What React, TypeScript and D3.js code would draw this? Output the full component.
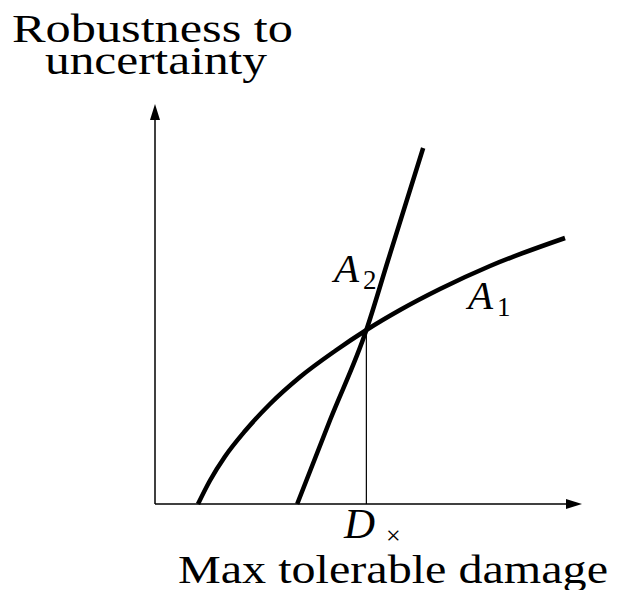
import React from "react";
import * as d3 from "d3";

// Info-gap robustness curves for two actions, A1 and A2
const damageA1: number[] = [10.07, 12.88, 16.39, 21.08, 26.93, 33.96, 42.15, 49.5, 57.38, 66.74, 78.45, 96.02];
const robustA1: number[] = [0, 5.88, 11.88, 18.25, 25, 31.75, 38.25, 43.5, 48.5, 53.75, 59.5, 66.5];

const damageA2: number[] = [33.3, 41.0, 49.5, 54.6, 62.8];
const robustA2: number[] = [0, 21, 43.5, 61, 89];

// Damage level where the two robustness curves cross
const crossDamage = 49.5;
const crossRobust = 43.5;

const yTitleLines: string[] = ["Robustness to", "uncertainty"];
const xTitle = "Max tolerable damage";

const W = 621;
const H = 590;

const FONT = "Liberation Serif";

export default function App() {
  const x = d3.scaleLinear().domain([0, 100]).range([155, 582]);
  const y = d3.scaleLinear().domain([0, 100]).range([504, 104]);

  const line = d3
    .line<[number, number]>()
    .x((d) => x(d[0]))
    .y((d) => y(d[1]))
    .curve(d3.curveMonotoneX);

  const a1 = damageA1.map((d, i) => [d, robustA1[i]] as [number, number]);
  const a2 = damageA2.map((d, i) => [d, robustA2[i]] as [number, number]);

  const x0 = x(0);
  const y0 = y(0);
  const xEnd = x(100);
  const yEnd = y(100);

  return (
    <svg
      width={W}
      height={H}
      style={{ position: "absolute", left: 0, top: 0, fontFamily: FONT }}
    >
      <rect width={W} height={H} fill="#fff" />

      {/* axes */}
      <line x1={x0} y1={y0} x2={xEnd - 14} y2={y0} stroke="#000" strokeWidth={1.5} />
      <line x1={x0} y1={y0} x2={x0} y2={yEnd + 14} stroke="#000" strokeWidth={1.5} />
      <path
        d={`M${xEnd},${y0} L${xEnd - 16},${y0 - 5} L${xEnd - 16},${y0 + 5} Z`}
        fill="#000"
      />
      <path
        d={`M${x0},${yEnd} L${x0 - 5},${yEnd + 16} L${x0 + 5},${yEnd + 16} Z`}
        fill="#000"
      />

      {/* drop line at the crossing */}
      <line
        x1={x(crossDamage)}
        y1={y(crossRobust)}
        x2={x(crossDamage)}
        y2={y0}
        stroke="#000"
        strokeWidth={1.2}
      />

      {/* robustness curves */}
      <path d={line(a1) ?? ""} fill="none" stroke="#000" strokeWidth={4.5} />
      <path d={line(a2) ?? ""} fill="none" stroke="#000" strokeWidth={4.5} />

      {/* curve labels */}
      <text x={334} y={282} fontSize={41} style={{ fontFamily: FONT, fontStyle: "italic" }}>
        A
      </text>
      <text x={363} y={289} fontSize={27} style={{ fontFamily: FONT }}>
        2
      </text>
      <text x={468} y={309} fontSize={41} style={{ fontFamily: FONT, fontStyle: "italic" }}>
        A
      </text>
      <text x={497} y={316} fontSize={27} style={{ fontFamily: FONT }}>
        1
      </text>

      {/* crossing damage label */}
      <text x={344} y={538} fontSize={43} style={{ fontFamily: FONT, fontStyle: "italic" }}>
        D
      </text>
      <text x={386} y={544} fontSize={26} style={{ fontFamily: FONT }}>
        ×
      </text>

      {/* axis titles */}
      <text
        x={12}
        y={42}
        fontSize={41}
        style={{ fontFamily: FONT }}
        textLength={281}
        lengthAdjust="spacingAndGlyphs"
      >
        {yTitleLines[0]}
      </text>
      <text
        x={45}
        y={74}
        fontSize={41}
        style={{ fontFamily: FONT }}
        textLength={222}
        lengthAdjust="spacingAndGlyphs"
      >
        {yTitleLines[1]}
      </text>
      <text
        x={178}
        y={583}
        fontSize={41}
        style={{ fontFamily: FONT }}
        textLength={430}
        lengthAdjust="spacingAndGlyphs"
      >
        {xTitle}
      </text>
    </svg>
  );
}
